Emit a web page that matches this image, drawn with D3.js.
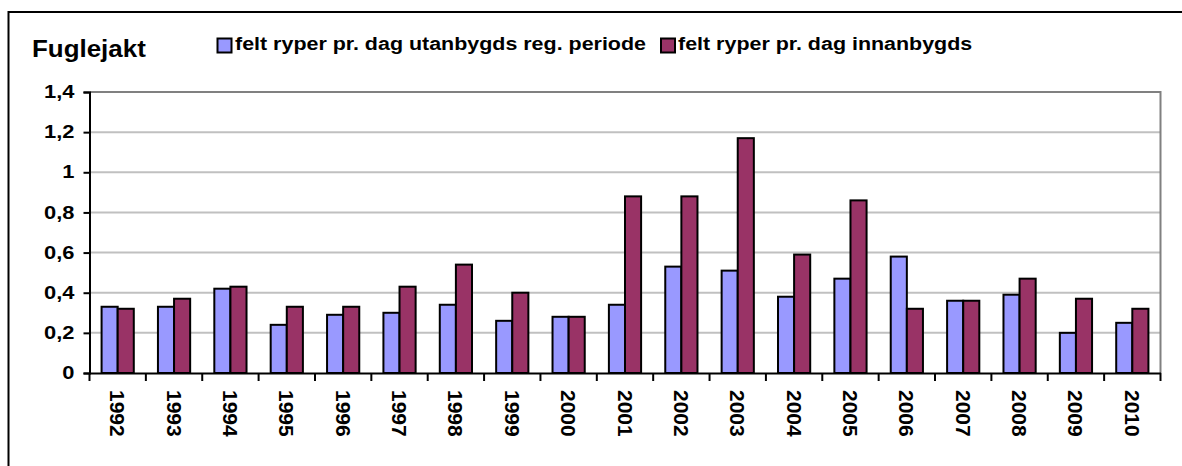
<!DOCTYPE html>
<html>
<head>
<meta charset="utf-8">
<script src="https://cdn.jsdelivr.net/npm/d3@7"></script>
<style>
  html, body { margin: 0; padding: 0; background: #fff; }
  svg { display: block; }
  text { font-family: "Liberation Sans", Arial, sans-serif; font-weight: bold; fill: #000; }
</style>
</head>
<body>
<svg id="chart" width="1182" height="466"></svg>
<script>
// ---- data ----
const years = ["1992","1993","1994","1995","1996","1997","1998","1999","2000","2001",
               "2002","2003","2004","2005","2006","2007","2008","2009","2010"];
const utanbygds = [0.33,0.33,0.42,0.24,0.29,0.30,0.34,0.26,0.28,0.34,
                   0.53,0.51,0.38,0.47,0.58,0.36,0.39,0.20,0.25];
const innanbygds = [0.32,0.37,0.43,0.33,0.33,0.43,0.54,0.40,0.28,0.88,
                    0.88,1.17,0.59,0.86,0.32,0.36,0.47,0.37,0.32];
const seriesNames = ["felt ryper pr. dag utanbygds reg. periode", "felt ryper pr. dag innanbygds"];
const yTicks = [0, 0.2, 0.4, 0.6, 0.8, 1, 1.2, 1.4];
const yTickLabels = ["0", "0,2", "0,4", "0,6", "0,8", "1", "1,2", "1,4"];
const title = "Fuglejakt";

// ---- layout ----
const colors = ["#9999FF", "#993366"];
const plot = { left: 89.5, right: 1160.5, top: 92, bottom: 373 };
const svg = d3.select("#chart");

function stretch(sel, f) {
  sel.each(function () {
    const w = this.getComputedTextLength();
    d3.select(this).attr("textLength", w * f).attr("lengthAdjust", "spacingAndGlyphs");
  });
}

// outer frame
svg.append("rect").attr("x", 8.5).attr("y", 12).attr("width", 1200).attr("height", 500)
  .attr("fill", "none").attr("stroke", "#000").attr("stroke-width", 2);

const x = d3.scaleBand().domain(years).range([plot.left, plot.right]).paddingInner(0).paddingOuter(0);
const xs = d3.scaleBand().domain([0, 1]).range([0, x.bandwidth()]).paddingInner(0).paddingOuter(0.75);
const y = d3.scaleLinear().domain([0, 1.4]).range([plot.bottom, plot.top]);

// gridlines
svg.append("g").selectAll("line").data(yTicks.filter(d => d > 0 && d < 1.4)).join("line")
  .attr("x1", plot.left).attr("x2", plot.right)
  .attr("y1", d => y(d)).attr("y2", d => y(d))
  .attr("stroke", "#c0c0c0").attr("stroke-width", 2);

// plot border top & right
svg.append("path")
  .attr("d", `M${plot.left},${y(1.4)}H${plot.right}V${plot.bottom}`)
  .attr("fill", "none").attr("stroke", "#808080").attr("stroke-width", 2);

// bars
const series = [utanbygds, innanbygds];
series.forEach((vals, si) => {
  svg.append("g").selectAll("rect").data(vals).join("rect")
    .attr("x", (d, i) => x(years[i]) + xs(si))
    .attr("y", d => y(d))
    .attr("width", xs.bandwidth())
    .attr("height", d => y(0) - y(d))
    .attr("fill", colors[si])
    .attr("stroke", "#000").attr("stroke-width", 2);
});

// y axis
const yAxis = svg.append("g").attr("transform", `translate(${plot.left},0)`)
  .call(d3.axisLeft(y).tickValues(yTicks).tickSize(6).tickPadding(9)
    .tickFormat((d, i) => yTickLabels[i]));
yAxis.select(".domain").attr("stroke", "#000").attr("stroke-width", 2);
yAxis.selectAll(".tick line").attr("stroke", "#000").attr("stroke-width", 2);
yAxis.selectAll(".tick text").attr("font-size", "17.5px").attr("font-family", null)
  .attr("fill", "#000").call(stretch, 1.25);

// x axis
const xAxis = svg.append("g").attr("transform", `translate(0,${plot.bottom})`)
  .call(d3.axisBottom(x).tickSize(0).tickFormat(""));
xAxis.select(".domain").attr("stroke", "#000").attr("stroke-width", 2);
xAxis.append("g").selectAll("line").data(years.concat([null])).join("line")
  .attr("x1", (d, i) => i < years.length ? x(years[i]) : plot.right)
  .attr("x2", (d, i) => i < years.length ? x(years[i]) : plot.right)
  .attr("y1", 0).attr("y2", 8)
  .attr("stroke", "#000").attr("stroke-width", 2);
xAxis.append("g").selectAll("text").data(years).join("text")
  .attr("transform", d => `translate(${x(d) + x.bandwidth() / 2},17) rotate(90)`)
  .attr("text-anchor", "start").attr("dominant-baseline", "central")
  .attr("font-size", "21px")
  .text(d => d);

// title
svg.append("text").attr("x", 32).attr("y", 57).attr("font-size", "24px")
  .text(title).call(stretch, 1.08);

// legend
const legendPos = [{ sx: 217.5, tx: 235 }, { sx: 661, tx: 678 }];
seriesNames.forEach((name, i) => {
  svg.append("rect").attr("x", legendPos[i].sx).attr("y", 38.5).attr("width", 14).attr("height", 14)
    .attr("fill", colors[i]).attr("stroke", "#000").attr("stroke-width", 2);
  svg.append("text").attr("x", legendPos[i].tx).attr("y", 50).attr("font-size", "17.5px")
    .text(name).call(stretch, 1.225);
});
</script>
</body>
</html>
